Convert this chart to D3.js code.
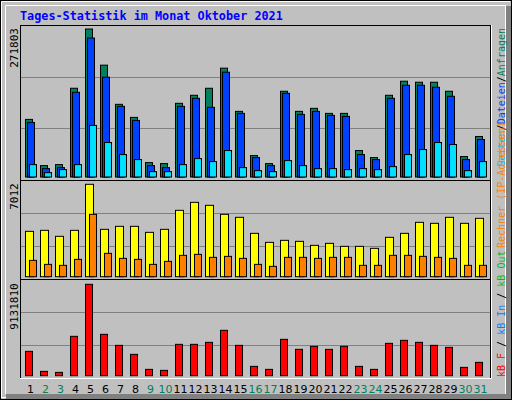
<!DOCTYPE html>
<html><head><meta charset="utf-8">
<script src="https://cdn.jsdelivr.net/npm/d3@7"></script>
<style>body{margin:0;background:#fff}svg{display:block}</style>
</head><body>
<script>
const days = d3.range(1, 32);
const weekend = [2,3,9,10,16,17,23,24,30,31];
const hits  = [105780,20910,22755,162975,271803,205410,133455,109470,26445,24600,135300,150060,162975,199875,120540,39360,24600,157440,120540,126075,116850,116850,48585,35670,150060,175890,174045,174045,157440,37515,74415];
const files = [100245,15375,17220,155595,255225,183270,129765,103935,20910,17220,129765,144525,127920,192495,116850,35670,20910,153750,115005,120540,113160,111315,41205,31980,144525,168510,168510,164820,148215,31980,68880];
const pages = [22755,7995,13530,22755,94710,63345,41205,31980,9840,9840,22755,33825,28290,48585,17220,11685,9840,30135,20910,15375,15375,13530,15375,13530,19065,41205,50430,63345,59655,11685,28290];
const visits = [3442,3518,3063,3518,7012,3594,3822,3822,3366,3594,5037,5644,5416,4733,4505,3290,2607,2759,2683,2379,2531,2303,2303,2151,2987,3290,4126,4050,4505,4050,4429];
const sites = [1240,936,861,1316,4733,1772,1392,1316,936,1164,1620,1696,1468,1544,1392,936,785,1468,1468,1392,1468,1468,861,861,1620,1620,1544,1468,1392,861,861];
const kbytes = [2432944,433264,333280,3932704,9131810,4132672,3032848,2132992,633232,533248,3132832,3132832,3332800,4532608,3032848,933184,633232,3632752,2632912,2932864,2632912,2932864,933184,633232,3232816,3532768,3332800,3032848,2832880,833200,1333120];
const title = "Tages-Statistik im Monat Oktober 2021";

const W=512,H=400, X0=20, X1=490;
const svg=d3.select("body").append("svg").attr("width",W).attr("height",H);
svg.append("rect").attr("width",W).attr("height",H).attr("fill","#C0C0C0");
// bevel
svg.append("rect").attr("x",0.5).attr("y",0.5).attr("width",W-1).attr("height",H-1).attr("fill","none").attr("stroke","#000");
svg.append("path").attr("d","M1.5,398V1.5H510").attr("stroke","#fff").attr("fill","none");
svg.append("path").attr("d",`M2,397.5H505.5V6`).attr("stroke","#fff").attr("fill","none");
svg.append("rect").attr("x",506).attr("y",6).attr("width",5).attr("height",393).attr("fill","#808080");
svg.append("rect").attr("x",6).attr("y",394).attr("width",505).attr("height",5).attr("fill","#808080");
svg.append("path").attr("d","M5.5,394V5.5H506").attr("stroke","#fff").attr("fill","none");

svg.append("text").attr("x",20).attr("y",20).attr("font-family","DejaVu Sans Mono").attr("font-weight","bold")
  .attr("font-size",11.8).attr("fill","#0000FF").text(title);

const x=d3.scaleBand().domain(days).range([25,25+15*31]).paddingInner(0).paddingOuter(0);
const panels=[
 {top:25,bot:180,y0:177,y1:29,max:271803,label:"271803",
  series:[{v:hits,c:"#00805C",off:0,w:7},{v:files,c:"#0040FF",off:2,w:7},{v:pages,c:"#00E0FF",off:4,w:7}]},
 {top:180,bot:279,y0:276.7,y1:184.3,max:7012,label:"7012",
  series:[{v:visits,c:"#FFFF00",off:0,w:8},{v:sites,c:"#FF8000",off:4,w:7}]},
 {top:279,bot:378,y0:375.7,y1:284.3,max:9131810,label:"9131810",
  series:[{v:kbytes,c:"#FF0000",off:0,w:7}]}
];
panels.forEach(p=>{
  const y=d3.scaleLinear().domain([0,p.max]).range([p.y0,p.y1]);
  const h=p.bot-p.top;
  [1,2].forEach(k=>svg.append("line").attr("x1",X0).attr("x2",X1)
     .attr("y1",Math.round(p.top+h*k/3)+0.5).attr("y2",Math.round(p.top+h*k/3)+0.5).attr("stroke","#808080"));
  p.series.forEach(s=>{
    svg.append("g").selectAll("rect").data(days).join("rect")
      .attr("x",d=>x(d)+s.off+0.5).attr("width",s.w)
      .attr("y",(d,i)=>y(s.v[i])).attr("height",(d,i)=>p.y0-y(s.v[i]))
      .attr("fill",s.c).attr("stroke","#000");
  });
  svg.append("rect").attr("x",X0+0.5).attr("y",p.top+0.5).attr("width",X1-X0).attr("height",h)
    .attr("fill","none").attr("stroke","#000");
  svg.append("text").attr("transform",`translate(18,${p.y1-1}) rotate(-90)`).attr("text-anchor","end")
    .attr("font-family","DejaVu Sans Mono").attr("font-size",11).attr("fill","#000").text(p.label);
});
svg.append("path").attr("d",`M${X0},378.5H${X1+1.5}V25`).attr("stroke","#fff").attr("fill","none");

// day labels
svg.append("g").selectAll("text").data(days).join("text")
  .attr("x",d=>x(d)+5.5).attr("y",393).attr("text-anchor","middle")
  .attr("font-family","DejaVu Sans").attr("font-size",11)
  .attr("fill",d=>weekend.includes(d)?"#00805C":"#000").text(d=>d);

// right legends
function vlabel(parts,yStart,anchor){
  const t=svg.append("text").attr("transform",`translate(505,${yStart}) rotate(-90)`).attr("text-anchor",anchor)
    .attr("font-family","DejaVu Sans Mono").attr("font-size",10);
  parts.forEach(([s,c])=>t.append("tspan").attr("fill",c).text(s));
}
vlabel([["Seiten","#00C0E0"],["/","#000"],["Dateien","#0040FF"],["/","#000"],["Anfragen","#00805C"]],28,"end");
vlabel([["Rechner (IP-Adressen)","#FF8000"]],248,"start");
vlabel([["kB F","#FF0000"],[" / ","#000"],["kB In","#0080FF"],[" / ","#000"],["kB Out","#00C000"]],377,"start");
</script></body></html>
